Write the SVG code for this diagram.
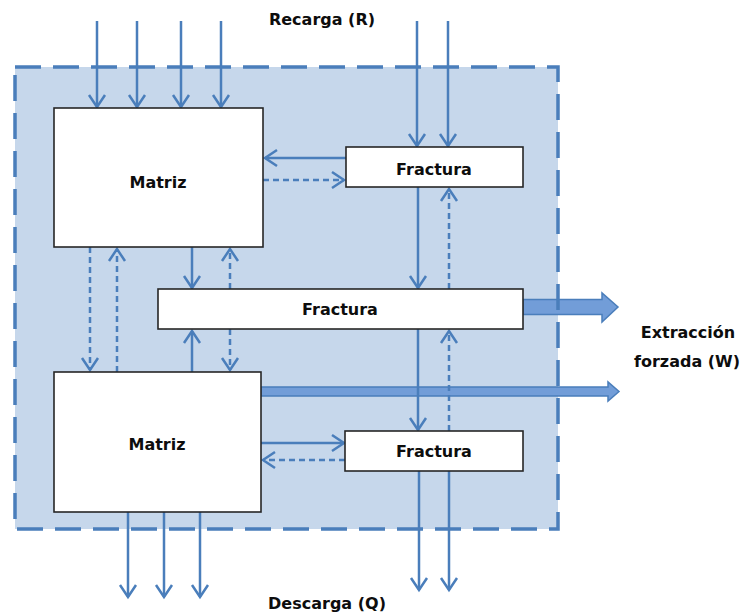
<svg xmlns="http://www.w3.org/2000/svg" width="742" height="615" viewBox="0 0 742 615">
  <style>
    .box { fill: #ffffff; stroke: #262626; stroke-width: 1.6; }
    .lbl { font-family: "DejaVu Sans", "Liberation Sans", sans-serif; font-weight: bold; font-size: 16px; fill: #0d0d0d; text-anchor: middle; }
    .flow { fill: none; stroke: #4A7EBB; stroke-width: 2.5; marker-end: url(#head); }
    .dash { stroke-dasharray: 6 4; }
    .big { fill: #729DD8; stroke: #4A7EBB; stroke-width: 1.5; }
  </style>
  <defs>
    <marker id="head" viewBox="-14 -10 16 20" refX="0" refY="0" markerWidth="16" markerHeight="20" markerUnits="userSpaceOnUse" orient="auto" overflow="visible">
      <path d="M -12 -8 L 0 0 L -12 8" fill="none" stroke="#4A7EBB" stroke-width="2.5" stroke-linejoin="miter"/>
    </marker>
  </defs>

  <rect width="742" height="615" fill="#ffffff"/>

  <!-- aquifer domain -->
  <rect id="domain-fill" x="15" y="67" width="543" height="462" fill="#C6D7EB"/>

  <!-- forced extraction arrows -->
  <g id="extraction">
    <polygon class="big" points="523,299.5 602,299.5 602,293 618,307 602,322 602,314.5 523,314.5"/>
    <polygon class="big" points="261,387 608,387 608,382 619,391.5 608,401 608,396 261,396"/>
  </g>

  <g id="connectors">
    <!-- recharge -->
    <path class="flow" d="M97 21 V107"/>
    <path class="flow" d="M137 21 V107"/>
    <path class="flow" d="M181 21 V107"/>
    <path class="flow" d="M221 21 V107"/>
    <path class="flow" d="M417 21 V146"/>
    <path class="flow" d="M448 21 V146"/>

    <!-- upper matrix / upper fracture -->
    <path class="flow" d="M346 158 H265"/>
    <path class="flow dash" d="M263 180 H344"/>

    <!-- upper fracture / middle fracture -->
    <path class="flow" d="M418 187 V288"/>
    <path class="flow dash" d="M449 289 V189"/>

    <!-- upper matrix / middle fracture -->
    <path class="flow" d="M192 247 V288"/>
    <path class="flow dash" d="M230 289 V249"/>

    <!-- middle fracture / lower matrix -->
    <path class="flow" d="M192 372 V331"/>
    <path class="flow dash" d="M230 329 V370"/>

    <!-- matrix / matrix -->
    <path class="flow dash" d="M90 247 V370"/>
    <path class="flow dash" d="M117 372 V249"/>

    <!-- middle fracture / lower fracture -->
    <path class="flow" d="M418 329 V430"/>
    <path class="flow dash" d="M449 431 V331"/>

    <!-- lower matrix / lower fracture -->
    <path class="flow" d="M261 443 H344"/>
    <path class="flow dash" d="M345 460 H263"/>

    <!-- discharge -->
    <path class="flow" d="M128 512 V597"/>
    <path class="flow" d="M164 512 V597"/>
    <path class="flow" d="M200 512 V597"/>
    <path class="flow" d="M419 471 V590"/>
    <path class="flow" d="M449 471 V590"/>
  </g>

  <g id="matriz-sup">
    <rect class="box" x="54" y="108" width="209" height="139"/>
    <text class="lbl" x="158" y="188">Matriz</text>
  </g>
  <g id="fractura-sup">
    <rect class="box" x="346" y="147" width="177" height="40"/>
    <text class="lbl" x="434" y="175">Fractura</text>
  </g>
  <g id="fractura-media">
    <rect class="box" x="158" y="289" width="365" height="40"/>
    <text class="lbl" x="340" y="315">Fractura</text>
  </g>
  <g id="matriz-inf">
    <rect class="box" x="54" y="372" width="207" height="140"/>
    <text class="lbl" x="157" y="450">Matriz</text>
  </g>
  <g id="fractura-inf">
    <rect class="box" x="345" y="431" width="178" height="40"/>
    <text class="lbl" x="434" y="457">Fractura</text>
  </g>

  <!-- domain boundary -->
  <rect id="domain-edge" x="15" y="67" width="543" height="462" fill="none" stroke="#4A7EBB" stroke-width="3.5" stroke-dasharray="26 12"/>

  <g id="labels">
    <text class="lbl" x="322" y="25">Recarga (R)</text>
    <text class="lbl" x="327" y="609">Descarga (Q)</text>
    <text class="lbl" x="688" y="338">Extracción</text>
    <text class="lbl" x="687" y="367">forzada (W)</text>
  </g>
</svg>
